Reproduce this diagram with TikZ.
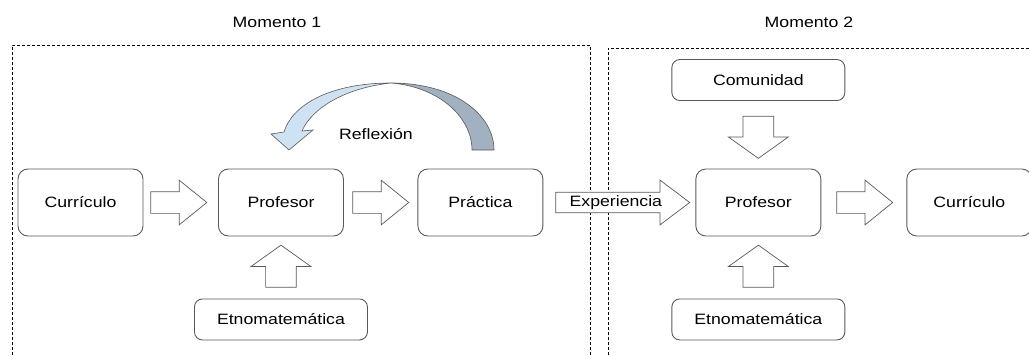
\documentclass[tikz,border=0pt]{standalone}
\usepackage{fontspec}
\setmainfont{Liberation Sans}[FakeStretch=1.18]
\usetikzlibrary{shapes.arrows, calc}
\definecolor{lightblue}{HTML}{CFE2F3}
\definecolor{grayblue}{HTML}{A2B1C0}
\definecolor{linegray}{HTML}{595959}

\begin{document}
\begin{tikzpicture}[x=1pt, y=1pt, font=\fontsize{15}{18}\selectfont]
    \tikzstyle{stage} = [rectangle, rounded corners=10pt, minimum width=125pt, minimum height=67pt, text centered, draw=linegray, line width=0.9pt]
    \tikzstyle{source} = [rectangle, rounded corners=8pt, minimum width=173pt, minimum height=41pt, text centered, draw=linegray, line width=0.9pt]
    \tikzstyle{flow} = [single arrow, draw=linegray, fill=white, line width=0.7pt, inner xsep=0pt, inner ysep=10.5pt, single arrow head extend=11.5pt, single arrow tip angle=78, minimum height=56pt, anchor=tail]
    \tikzstyle{feed} = [single arrow, draw=linegray, fill=white, line width=0.7pt, inner xsep=0pt, inner ysep=15pt, single arrow head extend=14.5pt, single arrow tip angle=109, minimum height=42pt, anchor=tail]
    \tikzstyle{frame} = [dash pattern=on 3pt off 2pt, line width=0.7pt]

    \useasboundingbox (0,0) rectangle (1029,-356);

    % the two moments
    \draw [frame] (12,-370) -- (12,-45) -- (590,-45) -- (590,-370);
    \draw [frame] (608,-370) -- (608,-48) -- (1040,-48);
    \node (m1) at (277,-22) {Momento 1};
    \node (m2) at (809,-22) {Momento 2};

    \node (cur) [stage] at (80.5,-202.5) {Currículo};
    \node (prof1) [stage, right of=cur, xshift=172pt] {Profesor};
    \node (prac) [stage, right of=prof1, xshift=171pt] {Práctica};
    \node (prof2) [stage, right of=prac, xshift=249.5pt] {Profesor};
    \node (cur2) [stage, right of=prof2, xshift=182.5pt] {Currículo};
    \node (etno1) [source, below of=prof1, yshift=-88.5pt] {Etnomatemática};
    \node (etno2) [source, below of=prof2, yshift=-88.5pt] {Etnomatemática};
    \node (com) [source, above of=prof2, yshift=94pt] {Comunidad};

    \path (cur.east) -- node [flow, at start, xshift=7pt] {} (prof1.west);
    \path (prof1.east) -- node [flow, at start, xshift=8.5pt] {} (prac.west);
    \path (prac.east) -- node [flow, at start, xshift=12pt, inner ysep=3pt, single arrow head extend=12pt, single arrow tip angle=74, minimum height=134pt] {Experiencia} (prof2.west);
    \path (prof2.east) -- node [flow, at start, xshift=15pt] {} (cur2.west);
    \path (etno1.north) -- node [feed, at start, rotate=90, xshift=11pt] {} (prof1.south);
    \path (etno2.north) -- node [feed, at start, rotate=90, xshift=11pt] {} (prof2.south);
    \path (com.south) -- node [feed, at start, rotate=-90, xshift=15pt] {} (prof2.north);

    % reflexion loop from practice back to the teacher
    \draw [linegray, fill=grayblue, line width=0.6pt] (391,-83) .. controls (455,-83) and (494,-115) .. (494,-150) -- (472,-150) .. controls (472,-118) and (440,-87) .. (391,-83) -- cycle;
    \draw [linegray, fill=lightblue, line width=0.6pt] (391,-83) .. controls (330,-83) and (292,-105) .. (284,-132) -- (271,-134) -- (289,-150) -- (313,-130) -- (302,-131) .. controls (312,-108) and (345,-88) .. (391,-83) -- cycle;
    \node (refl) [above of=prof1, xshift=95pt, yshift=40pt] {Reflexión};
\end{tikzpicture}
\end{document}
